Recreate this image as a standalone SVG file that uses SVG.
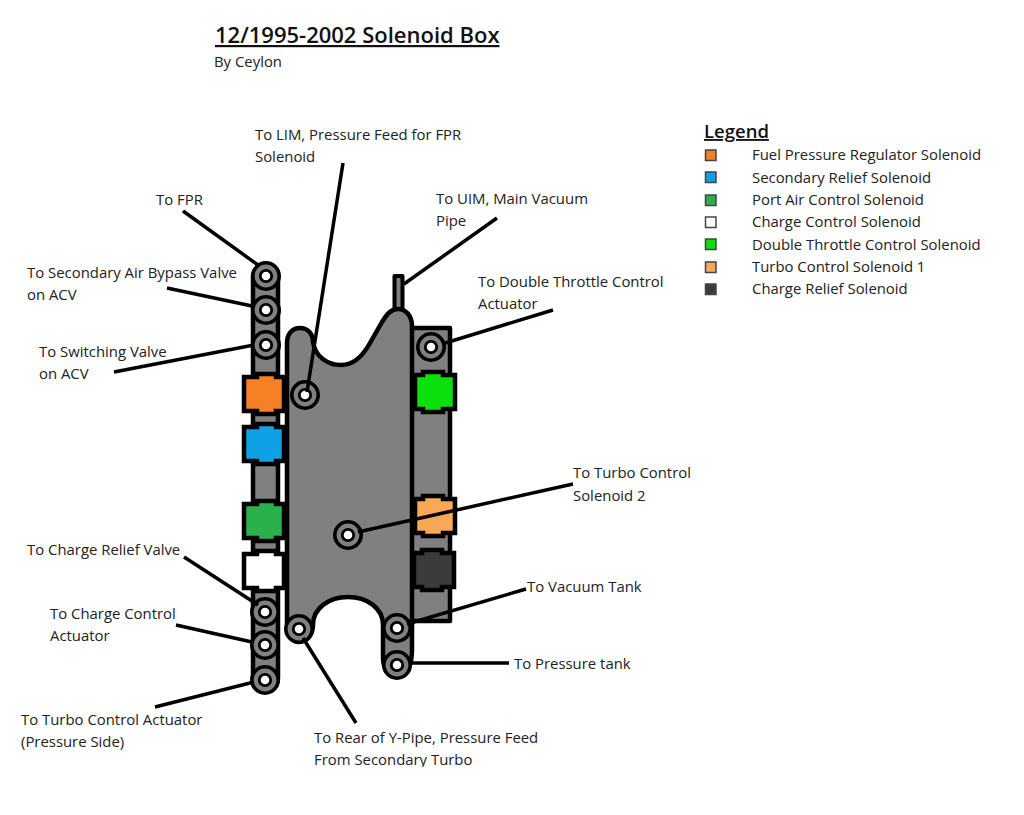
<svg xmlns="http://www.w3.org/2000/svg" width="1024" height="815" viewBox="0 0 1024 815">
<style>
text{font-family:"Open Sans","Noto Sans","Liberation Sans",sans-serif;font-size:14.9px;fill:#222}
.b{fill:#808080;stroke:#000;stroke-width:4.500;stroke-linejoin:round}
.s{stroke:#000;stroke-width:4.500;stroke-linejoin:miter}
.l{stroke-width:1.500;stroke:#444}
.c{fill:none;stroke:#000;stroke-width:3.500}
</style>
<defs>
<g id="port"><circle r="13.200" fill="#808080" stroke="#000" stroke-width="3.600"/><circle r="5.700" fill="#fff" stroke="#000" stroke-width="2.800"/></g>
<path id="sol" d="M-20-17H-7V-20H12V-17H20V17H12V20H-7V17H-20Z"/>
<path id="solr" d="M-20-17H-12V-20H8V-17H20V17H8V20H-12V17H-20Z"/>
<clipPath id="cut"><rect x="300" y="750" width="300" height="17"/></clipPath>
</defs>
<rect width="1024" height="815" fill="#fff"/>
<g id="title"><text x="215" y="43" style="font-size:22px;font-weight:600;fill:#111" text-decoration="underline">12/1995-2002 Solenoid Box</text><text x="214" y="66.500">By Ceylon</text></g>
<g id="legend">
<text x="704" y="138" style="font-size:18.500px;font-weight:600;fill:#111" text-decoration="underline">Legend</text>
<rect class="l" x="705.500" y="150" width="10.500" height="10.500" fill="#f58026"/><text x="752" y="160">Fuel Pressure Regulator Solenoid</text>
<rect class="l" x="705.500" y="172" width="10.500" height="10.500" fill="#0fa0e6"/><text x="752" y="182.500">Secondary Relief Solenoid</text>
<rect class="l" x="705.500" y="195" width="10.500" height="10.500" fill="#2bb14c"/><text x="752" y="204.500">Port Air Control Solenoid</text>
<rect class="l" x="705.500" y="217" width="10.500" height="10.500" fill="#fff"/><text x="752" y="227">Charge Control Solenoid</text>
<rect class="l" x="705.500" y="239" width="10.500" height="10.500" fill="#0ce00c"/><text x="752" y="249.500">Double Throttle Control Solenoid</text>
<rect class="l" x="705.500" y="262" width="10.500" height="10.500" fill="#f9a857"/><text x="752" y="271.500">Turbo Control Solenoid 1</text>
<rect class="l" x="705.500" y="284" width="10.500" height="10.500" fill="#3b3b3b"/><text x="752" y="294">Charge Relief Solenoid</text>
</g>
<g id="strip-left"><rect class="b" x="253" y="264.500" width="25" height="426" rx="12.500"/></g>
<g id="box-right"><rect class="b" x="410" y="328" width="40" height="293"/></g>
<g id="pipe"><rect class="b" x="394.500" y="276" width="8" height="36" style="stroke-width:4"/></g>
<g id="body"><path class="b" d="M287 343C287 333 293 328 300 328C308 328 313 334 313 342C315 356 327 365 341 365C355 365 364 354 370 343L382 322C387 314 391 309 398 309C406 309 412 316 412 326V650C412 668 405 677 397 677C389 677 383 668 383 658V625C383 608 367 597 348 597C329 597 313 608 313 625C313 636 306 642 298 642C291 642 287 632 287 622Z"/></g>
<g id="port-fpr"><use href="#port" x="266" y="276"/></g>
<g id="port-acv"><use href="#port" x="266" y="310"/></g>
<g id="port-switch"><use href="#port" x="266" y="345"/></g>
<g id="port-lim"><use href="#port" x="305" y="395"/></g>
<g id="port-actuator"><use href="#port" x="431" y="347"/></g>
<g id="port-turbo2"><use href="#port" x="348" y="535"/></g>
<g id="port-relief"><use href="#port" x="265" y="612"/></g>
<g id="port-charge"><use href="#port" x="265" y="645"/></g>
<g id="port-turbo"><use href="#port" x="265" y="680"/></g>
<g id="port-ypipe"><use href="#port" x="299" y="629"/></g>
<g id="port-vac"><use href="#port" x="397" y="628"/></g>
<g id="port-press"><use href="#port" x="397" y="665"/></g>
<g id="sol-fpr"><use href="#sol" class="s" x="264" y="394" fill="#f58026"/></g>
<g id="sol-sec"><use href="#sol" class="s" x="264" y="444" fill="#0fa0e6"/></g>
<g id="sol-port"><use href="#sol" class="s" x="264" y="521" fill="#2bb14c"/></g>
<g id="sol-charge"><use href="#sol" class="s" x="264" y="571" fill="#fff"/></g>
<g id="sol-double"><use href="#solr" class="s" x="435" y="392" fill="#0ce00c"/></g>
<g id="sol-turbo"><use href="#solr" class="s" x="435" y="516" fill="#f9a857"/></g>
<g id="sol-relief"><use href="#solr" class="s" x="434" y="570" fill="#3b3b3b"/></g>
<g id="connectors">
<path class="c" d="M183 211L258 265M167 288L252 306M114 372L254 345M343 163L307 392M497 218L404 284M553 310L442 344M573 484L358 532M526 589L407 624M509 663H410M356 723L303 638M184 557L258 605M176 625L252 642M155 707L254 682"/>
</g>
<g id="labels">
<text x="255" y="139.500">To LIM, Pressure Feed for FPR</text><text x="255" y="161.500">Solenoid</text>
<text x="156" y="204.500">To FPR</text>
<text x="436" y="203.500">To UIM, Main Vacuum</text><text x="436" y="225.500">Pipe</text>
<text x="478" y="286.500">To Double Throttle Control</text><text x="478" y="308.500">Actuator</text>
<text x="27" y="277.500">To Secondary Air Bypass Valve</text><text x="27" y="299.500">on ACV</text>
<text x="39" y="356.500">To Switching Valve</text><text x="39" y="378.500">on ACV</text>
<text x="573" y="477.500">To Turbo Control</text><text x="573" y="500.500">Solenoid 2</text>
<text x="27" y="554.500">To Charge Relief Valve</text>
<text x="50" y="618.500">To Charge Control</text><text x="50" y="640.500">Actuator</text>
<text x="527" y="591.500">To Vacuum Tank</text>
<text x="514" y="668.500">To Pressure tank</text>
<text x="21" y="724.500">To Turbo Control Actuator</text><text x="21" y="746.500">(Pressure Side)</text>
<text x="314" y="742.500">To Rear of Y-Pipe, Pressure Feed</text><text x="314" y="764.500" clip-path="url(#cut)">From Secondary Turbo</text>
</g>
</svg>
